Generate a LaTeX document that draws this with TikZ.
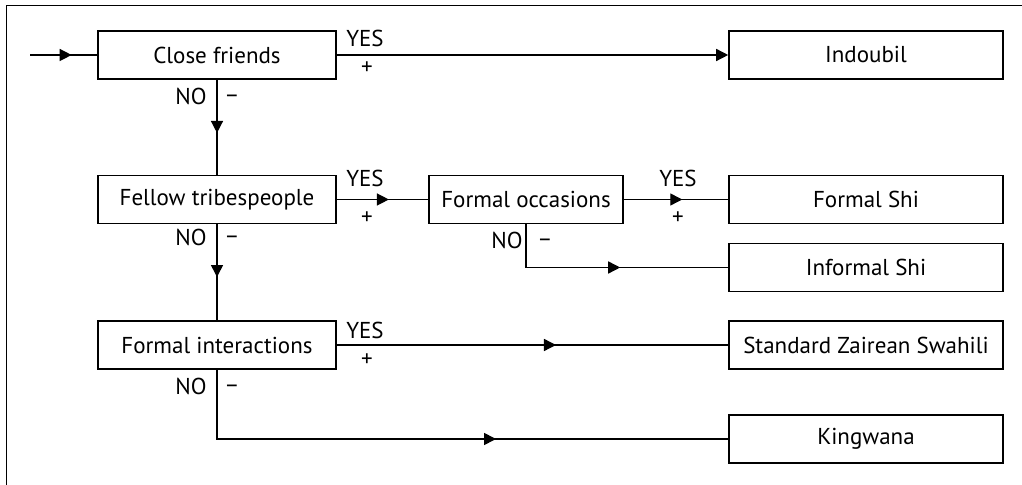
\documentclass[tikz,border=0pt]{standalone}
\usepackage{fontspec}
\setmainfont{PT Sans}
\usetikzlibrary{arrows.meta, decorations.markings}

\tikzset{
    box/.style={draw, line width=0.8pt, minimum height=24pt, inner sep=2pt, font=\fontsize{11.5}{13}\selectfont},
    testbox/.style={box, minimum width=119pt},
    langbox/.style={box, minimum width=137pt},
    link/.style={line width=0.7pt},
    midarrow/.style={postaction={decorate}, decoration={markings, mark=at position #1 with {\arrow{Triangle[length=6pt, width=6pt]}}}},
    midarrow/.default=0.56,
    tag/.style={font=\fontsize{11.5}{13}\selectfont, inner sep=0pt}
}

\begin{document}
\begin{tikzpicture}[x=0.5pt, y=-0.5pt]
    \useasboundingbox (0,0) rectangle (1022,485);
    % Frame (top and left only)
    \draw[line width=0.8pt] (1022,5.5) -- (6.5,5.5) -- (6.5,485);

    % Questions
    \node[testbox] (cf) at (217,55) {Close friends};
    \node[testbox] (ft) at (217,199.5) {Fellow tribespeople};
    \node[testbox] (fi) at (217,345) {Formal interactions};
    \node[box, minimum width=97pt] (fo) at (526,199.5) {Formal occasions};

    % Language choices
    \node[langbox] (ind) at (866,55) {Indoubil};
    \node[langbox] (fs) at (866,199.5) {Formal Shi};
    \node[langbox] (is) at (866,267.5) {Informal Shi};
    \node[langbox] (szs) at (866,345) {Standard Zairean Swahili};
    \node[langbox] (kw) at (866,439) {Kingwana};

    % Connectors
    \coordinate (start) at (30,55);
    \draw[link, midarrow=0.62] (start) -- (cf);
    \draw[link, -{Triangle[length=6pt, width=6pt]}] (cf) -- (ind);
    \draw[link, midarrow] (cf) -- (ft);
    \draw[link, midarrow=0.57] (ft) -- (fo);
    \draw[link, midarrow] (fo) -- (fs);
    \draw[link, midarrow] (fo.south) |- (is);
    \draw[link, midarrow=0.55] (ft) -- (fi);
    \draw[link, midarrow] (fi) -- (szs);
    \draw[link, midarrow=0.6] (fi.south) |- (kw);

    % YES / NO labels
    \node[tag] (y1) at (365,38) {YES};
    \node[tag] (p1) at (367,68) {+};
    \node[tag] (y2) at (365,178) {YES};
    \node[tag] (p2) at (367,218) {+};
    \node[tag] (y3) at (678,178) {YES};
    \node[tag] (p3) at (678,218) {+};
    \node[tag] (y4) at (365,330) {YES};
    \node[tag] (p4) at (367,360) {+};

    \node[tag] (n1) at (191,96) {NO};
    \node[tag] (m1) at (232,99) {–};
    \node[tag] (n2) at (191,237) {NO};
    \node[tag] (m2) at (232,240) {–};
    \node[tag] (n3) at (507,240) {NO};
    \node[tag] (m3) at (545,243) {–};
    \node[tag] (n4) at (191,386) {NO};
    \node[tag] (m4) at (232,389) {–};
\end{tikzpicture}
\end{document}
